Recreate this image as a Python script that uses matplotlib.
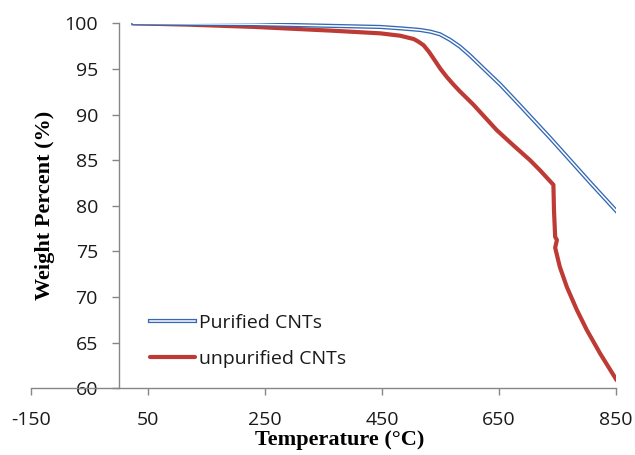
import matplotlib
matplotlib.use("Agg")
import matplotlib.pyplot as plt
import matplotlib.patheffects as pe

plt.rcParams["axes.unicode_minus"] = False

# Data
purified_temp = [25, 120, 230, 340, 447, 481, 515, 533, 549, 566, 583, 600, 617, 634, 652,
                 680, 709, 738, 766, 808, 851]
purified_wt = [100.0, 99.95, 99.9, 99.75, 99.6, 99.45, 99.27, 99.08, 98.8, 98.2, 97.45, 96.5,
               95.45, 94.4, 93.3, 91.4, 89.4, 87.4, 85.4, 82.4, 79.4]

unpurified_temp = [25, 120, 233, 362, 447, 481, 504, 512, 521, 530, 538, 550, 561, 572, 583,
                   606, 646, 675, 703, 720, 743, 744, 746, 749, 746, 754, 766, 783, 800, 823, 851]
unpurified_wt = [100.0, 99.85, 99.6, 99.2, 98.9, 98.64, 98.28, 98.0, 97.6, 96.9, 96.15, 95.0,
                 94.1, 93.3, 92.55, 91.1, 88.3, 86.6, 85.0, 83.9, 82.3, 79.5, 76.6, 76.25,
                 75.4, 73.3, 71.1, 68.6, 66.4, 63.8, 60.9]

series_labels = ["Purified CNTs", "unpurified CNTs"]
x_ticks = [-150, 50, 250, 450, 650, 850]
y_ticks = [60, 65, 70, 75, 80, 85, 90, 95, 100]

fig = plt.figure(figsize=(6.35, 4.55), dpi=100)
ax = fig.add_axes([31/635, 1-388.3/455, 585/635, 365/455])

blue = "#3468b4"
red = "#be3a34"
axis_col = "#868686"

ax.plot(unpurified_temp, unpurified_wt, color=red, lw=3.0, solid_joinstyle="round",
        solid_capstyle="round", label=series_labels[1], zorder=2)
ax.plot(purified_temp, purified_wt, color="white", lw=1.1, label=series_labels[0], zorder=3,
        solid_joinstyle="round",
        path_effects=[pe.Stroke(linewidth=3.0, foreground=blue), pe.Normal()])

ax.set_xlim(-150, 850)
ax.set_ylim(60, 100)
ax.set_xticks(x_ticks)
ax.set_yticks(y_ticks)

for s in ["top", "right"]:
    ax.spines[s].set_visible(False)
ax.spines["left"].set_position(("data", 0))
for s in ["left", "bottom"]:
    ax.spines[s].set_color(axis_col)
    ax.spines[s].set_linewidth(1.0)

tick_font = "Open Sans"
ax.tick_params(axis="both", colors=axis_col, length=5, width=1.0, direction="out",
               labelsize=14, labelcolor="#1a1a1a")
ax.tick_params(axis="y", pad=10)
ax.tick_params(axis="x", pad=11)
for lab in ax.get_xticklabels() + ax.get_yticklabels():
    lab.set_fontfamily(tick_font)

fig.text(45/635, 1-205/455, "Weight Percent (%)", rotation=90, ha="center", va="center",
         fontsize=16, fontweight="bold", family="Liberation Serif")
fig.text(340/635, 1-440/455, "Temperature (\u00b0C)", ha="center", va="center",
         fontsize=16, fontweight="bold", family="Liberation Serif")

handles, labels = ax.get_legend_handles_labels()
leg = ax.legend(handles[::-1], labels[::-1], loc="center left",
                bbox_to_anchor=(150/635, 1-341/455), bbox_transform=fig.transFigure,
                frameon=False, prop={"family": tick_font, "size": 14},
                handlelength=2.3, handletextpad=0.2, labelspacing=0.95, borderpad=0,
                borderaxespad=0)
for t in leg.get_texts():
    t.set_color("#1a1a1a")

fig.savefig("out.png", dpi=100)
